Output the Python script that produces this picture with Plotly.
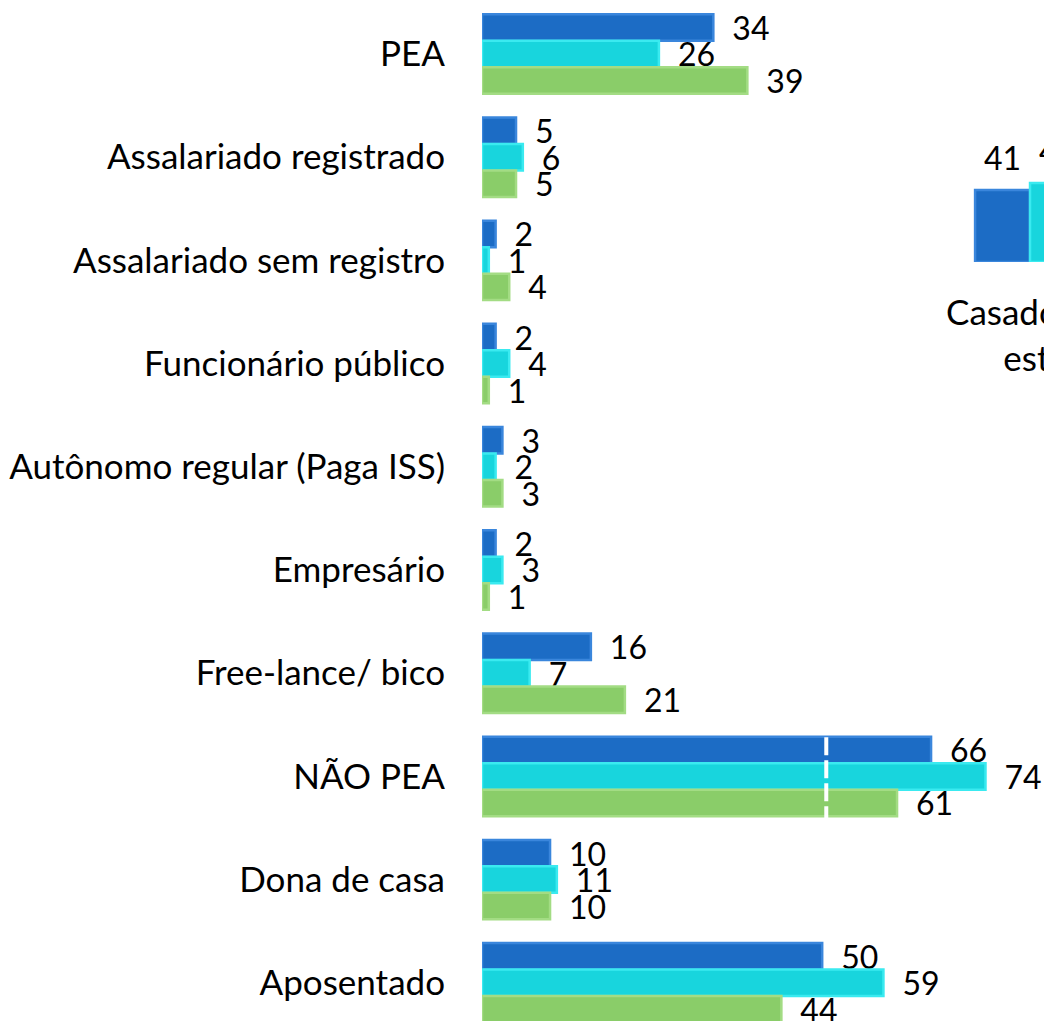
import plotly.graph_objects as go

categories = ["PEA", "Assalariado registrado", "Assalariado sem registro",
              "Funcionário público", "Autônomo regular (Paga ISS)", "Empresário",
              "Free-lance/ bico", "NÃO PEA", "Dona de casa", "Aposentado"]
serie_azul = [34, 5, 2, 2, 3, 2, 16, 66, 10, 50]
serie_ciano = [26, 6, 1, 4, 2, 3, 7, 74, 11, 59]
serie_verde = [39, 5, 4, 1, 3, 1, 21, 61, 10, 44]
series_names = ["Série 1", "Série 2", "Série 3"]

inset_categories = ["Casado/ união<br>estável"]
inset_azul = [41]
inset_ciano = [45]
inset_verde = [40]

fills = ["#1c6cc5", "#18d5dd", "#8acd69"]
edges = ["#3a86dc", "#3aeaf0", "#a3dc84"]
FONT = "Lato"
LABEL_SIZE = 35
VALUE_SIZE = 32
BARGAP = 0.23
INSET_XRANGE = [-0.5, -0.063]

fig = go.Figure()
for name, vals, fc, ec in zip(series_names, [serie_azul, serie_ciano, serie_verde], fills, edges):
    fig.add_trace(go.Bar(
        y=categories, x=vals, name=name, orientation="h",
        marker=dict(color=fc, line=dict(color=ec, width=2.5)),
        text=vals, texttemplate="\u2002%{x}", textposition="outside",
        constraintext="none",
        textfont=dict(size=VALUE_SIZE, color="black", family=FONT),
        cliponaxis=False, xaxis="x", yaxis="y", showlegend=False,
    ))

inset_series = [inset_azul, inset_ciano, inset_verde]
for name, vals, fc, ec in zip(series_names, inset_series, fills, edges):
    fig.add_trace(go.Bar(
        x=inset_categories, y=vals, name=name,
        marker=dict(color=fc, line=dict(color=ec, width=2.5)),
        cliponaxis=True, xaxis="x2", yaxis="y2", showlegend=False,
    ))


def x2_frac(v):
    return (v - INSET_XRANGE[0]) / (INSET_XRANGE[1] - INSET_XRANGE[0])


# inset value labels (offset groups: -1, 0, +1 bar widths around the category)
inset_bar_w = (1 - BARGAP) / 3
for k, vals in enumerate(inset_series):
    for i, v in enumerate(vals):
        fig.add_annotation(x=x2_frac(i + (k - 1) * inset_bar_w), y=v,
                           xref="x2 domain", yref="y2", xanchor="center",
                           text=str(v), showarrow=False, yshift=32,
                           font=dict(size=VALUE_SIZE, color="black", family=FONT))
# inset category label (its tick lies beyond the visible range)
for i, c in enumerate(inset_categories):
    fig.add_annotation(x=x2_frac(i), y=0, xref="x2 domain", yref="y2", text=c,
                       showarrow=False, xanchor="center", yanchor="top", yshift=-26,
                       align="center",
                       font=dict(size=LABEL_SIZE, color="black", family=FONT))

# white dashed marker across the NÃO PEA group
nao_pea_index = categories.index("NÃO PEA")
fig.add_shape(type="line", xref="x", yref="y", x0=50.6, x1=50.6,
              y0=nao_pea_index - 0.38, y1=nao_pea_index + 0.43,
              line=dict(color="white", width=4, dash="18px,5px"), layer="above")

fig.update_layout(
    width=1044, height=1021,
    margin=dict(l=482, r=0, t=0, b=0, autoexpand=False),
    paper_bgcolor="white", plot_bgcolor="white",
    barmode="group", bargap=BARGAP, bargroupgap=0,
    font=dict(family=FONT, size=LABEL_SIZE, color="black"),
    xaxis=dict(range=[0, 82.6], visible=False, domain=[0, 1], automargin=False),
    yaxis=dict(range=[9.37, -0.523], showgrid=False, zeroline=False, showline=False,
               automargin=False, ticks="", ticklabelstandoff=36,
               tickfont=dict(size=LABEL_SIZE, family=FONT)),
    xaxis2=dict(domain=[0.8336, 1], anchor="y2", range=INSET_XRANGE,
                visible=False, automargin=False),
    yaxis2=dict(domain=[0.7434, 0.95], anchor="x2", range=[0, 120], visible=False,
                automargin=False),
)

fig.write_html("out.html", config={"displayModeBar": False},
               post_script="document.body.style.margin='0';document.body.style.overflow='hidden';")
